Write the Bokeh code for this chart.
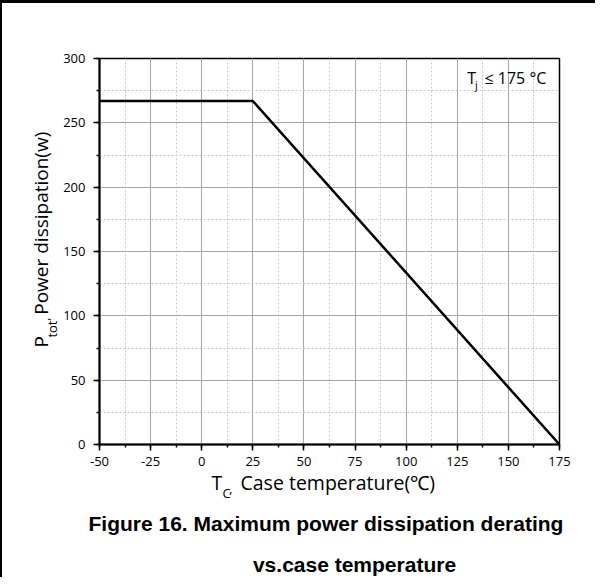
import math
from bokeh.plotting import figure
from bokeh.layouts import column, row
from bokeh.models import Range1d, SingleIntervalTicker, Label, PrintfTickFormatter
from bokeh.embed import file_html
from bokeh.resources import INLINE

# ---- data ----
case_temp = [-50, 25, 175]
p_tot = [267, 267, 0]
x_ticks_interval = 25
y_ticks_interval = 50

X0, X1 = -50, 175
Y0, Y1 = 0, 300

# ---- layout (picture pixels) ----
W, H = 595, 577                      # whole drawing (fits the window with its 8px margin)
BL, BT = 2, 3                        # frame lines of the page (left, top)
SPLIT_X, SPLIT_Y = 60, 476           # y-title strip | plot ; plot / caption strip
OVERLAP = 10                         # caption strip slides up under the plot (transparent)
FL, FR, FT, FB = 99, 559, 58, 444    # plot frame edges
BASE_FIX = 0.4                       # alphabetic-baseline correction (em)

def blank(w, h, transparent=False):
    f = figure(width=w, height=h, output_backend="svg", toolbar_location=None,
               x_axis_type=None, y_axis_type=None,
               x_range=Range1d(0, w), y_range=Range1d(h, 0),
               min_border=0, min_border_left=0, min_border_right=0,
               min_border_top=0, min_border_bottom=0)
    f.outline_line_color = None
    if transparent:
        f.background_fill_alpha = 0
        f.border_fill_alpha = 0
    else:
        f.background_fill_color = "white"
        f.border_fill_color = "white"
    return f

def tlab(f, ox, oy, text, px, py, size, font="Open Sans", rotated=False,
         style="normal", align="left"):
    s = float(size.replace("px", ""))
    if rotated:
        px -= BASE_FIX * s
    else:
        py -= BASE_FIX * s
    f.add_layout(Label(x=px - ox, y=py - oy, text=text,
                       angle=math.pi / 2 if rotated else 0.0,
                       text_font=font, text_font_size=size,
                       text_font_style=style, text_color="black",
                       text_align=align, text_baseline="alphabetic"))

# ---- main plot ----
p = figure(width=W - SPLIT_X, height=SPLIT_Y - BT, output_backend="svg",
           toolbar_location=None,
           x_range=Range1d(X0, X1), y_range=Range1d(Y0, Y1),
           min_border_left=FL - SPLIT_X, min_border_right=W - FR,
           min_border_top=FT - BT, min_border_bottom=SPLIT_Y - FB)
p.background_fill_color = "white"
p.border_fill_color = "white"
p.outline_line_color = "black"
p.outline_line_width = 1.5

p.xaxis.ticker = SingleIntervalTicker(interval=x_ticks_interval, num_minor_ticks=2)
p.yaxis.ticker = SingleIntervalTicker(interval=y_ticks_interval, num_minor_ticks=2)
p.xgrid.ticker = p.xaxis.ticker
p.ygrid.ticker = p.yaxis.ticker
p.xaxis.formatter = PrintfTickFormatter(format="%d")
p.yaxis.formatter = PrintfTickFormatter(format="%d")

for ax in (p.xaxis, p.yaxis):
    ax.axis_line_color = "black"
    ax.axis_line_width = 2
    ax.major_tick_line_color = "black"
    ax.major_tick_line_width = 1.5
    ax.minor_tick_line_color = "black"
    ax.minor_tick_line_width = 1.5
    ax.major_tick_out = 6
    ax.major_tick_in = 0
    ax.minor_tick_out = 3
    ax.minor_tick_in = 0
    ax.major_label_text_font = "Open Sans"
    ax.major_label_text_font_size = "13px"
    ax.major_label_text_color = "black"
p.xaxis.major_label_standoff = 6
p.yaxis.major_label_standoff = 8

for g in (p.xgrid, p.ygrid):
    g.grid_line_color = "#a6a6a6"
    g.grid_line_width = 1
    g.minor_grid_line_color = "#c8c8c8"
    g.minor_grid_line_dash = "2 2"
    g.minor_grid_line_width = 1

p.line(case_temp, p_tot, line_color="black", line_width=2.5)

def flab(text, px, py, size):
    s = float(size.replace("px", ""))
    py -= BASE_FIX * s
    p.add_layout(Label(x=px - FL, y=FB - py, x_units="screen", y_units="screen",
                       text=text, text_font="Open Sans", text_font_size=size,
                       text_color="black", text_align="left",
                       text_baseline="alphabetic"))

flab("T", 466.7, 84, "16px")
flab("j", 474.5, 88, "11px")
flab("\u2264 175 \u00b0C", 484, 84, "16px")

# ---- y-axis title strip ----
yl = blank(SPLIT_X - BL, SPLIT_Y - BT)
tlab(yl, BL, BT, "P", 47.7, 357, "19px", rotated=True)
tlab(yl, BL, BT, "tot\u2019", 56.5, 345, "13px", rotated=True)
tlab(yl, BL, BT, "Power dissipation(w)", 47.7, 317, "19px", rotated=True)

# ---- x-axis title and caption strip (slid up by OVERLAP, transparent) ----
top_bt = SPLIT_Y - OVERLAP
bt = blank(W - BL, H - top_bt, transparent=True)
bt.styles = {"margin-top": f"-{OVERLAP}px"}
tlab(bt, BL, top_bt, "T", 211, 490, "19.5px")
tlab(bt, BL, top_bt, "C", 222, 498, "13px")
tlab(bt, BL, top_bt, "\u2019", 229, 501, "13px")
tlab(bt, BL, top_bt, "Case temperature(\u2103)", 240, 490, "19.5px")
tlab(bt, BL, top_bt, "Figure 16. Maximum power dissipation derating", 88, 531, "21px",
     font="Liberation Sans", style="bold")
tlab(bt, BL, top_bt, "vs.case temperature", 354, 572, "21px",
     font="Liberation Sans", style="bold", align="center")

layout = column(row(yl, p), bt)
layout.styles = {"border-top": f"{BT}px solid black", "border-left": f"{BL}px solid black"}

open("out.html", "w").write(file_html(layout, INLINE))
